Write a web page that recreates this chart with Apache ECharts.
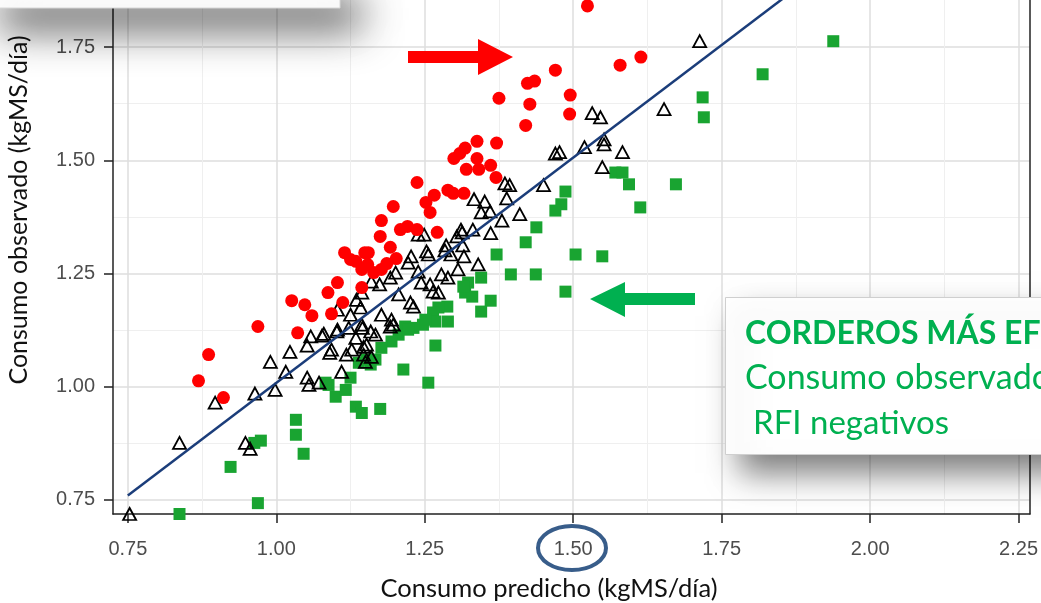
<!DOCTYPE html>
<html>
<head>
<meta charset="utf-8">
<script src="https://cdn.jsdelivr.net/npm/echarts@6/dist/echarts.min.js"></script>
<style>
  html, body { margin: 0; padding: 0; background: #fff; }
  #chart { width: 1041px; height: 603px; }
</style>
</head>
<body>
<div id="chart"></div>
<script>
'use strict';

// Tick values (major get labels, minor only a grid line)
const xTicks = [0.75, 1.0, 1.25, 1.5, 1.75, 2.0, 2.25];
const xMinor = [0.875, 1.125, 1.375, 1.625, 1.875, 2.125];
const yTicks = [0.75, 1.0, 1.25, 1.5, 1.75];
const yMinor = [0.875, 1.125, 1.375, 1.625];

// RFI positive (red circles)
const redPoints = [
  [1.524, 1.841], [1.579, 1.710], [1.614, 1.728], [1.470, 1.699], [1.423, 1.670], [1.435, 1.675],
  [1.375, 1.637], [1.427, 1.624], [1.495, 1.644], [1.494, 1.602], [1.420, 1.577], [1.338, 1.542],
  [1.371, 1.538], [1.318, 1.527], [1.309, 1.515], [1.299, 1.504], [1.338, 1.504], [1.320, 1.480],
  [1.341, 1.480], [1.361, 1.489], [1.370, 1.462], [1.237, 1.451], [1.289, 1.434], [1.298, 1.427],
  [1.316, 1.427], [1.266, 1.423], [1.252, 1.407], [1.259, 1.385], [1.197, 1.398], [1.177, 1.367],
  [1.175, 1.332], [1.209, 1.347], [1.221, 1.354], [1.237, 1.347], [1.271, 1.341], [1.155, 1.296],
  [1.202, 1.283], [1.186, 1.272], [1.115, 1.296], [1.125, 1.281], [1.149, 1.296], [1.154, 1.270],
  [1.144, 1.259], [1.164, 1.252], [1.177, 1.259], [1.103, 1.230], [1.087, 1.208], [1.112, 1.186],
  [1.093, 1.161], [1.144, 1.219], [1.026, 1.190], [1.048, 1.181], [1.060, 1.157], [0.969, 1.133],
  [1.036, 1.119], [0.886, 1.071], [0.869, 1.013], [0.911, 0.976], [1.134, 1.277], [1.192, 1.308]
];

// RFI around zero (open triangles)
const midPoints = [
  [1.713, 1.763], [1.653, 1.613], [1.532, 1.604], [1.546, 1.595], [1.552, 1.546], [1.552, 1.535],
  [1.583, 1.518], [1.519, 1.529], [1.477, 1.518], [1.549, 1.485], [1.450, 1.445], [1.385, 1.449],
  [1.393, 1.445], [1.388, 1.416], [1.410, 1.381], [1.380, 1.367], [1.361, 1.339], [1.333, 1.414],
  [1.351, 1.409], [1.345, 1.385], [1.360, 1.387], [1.311, 1.347], [1.331, 1.347], [1.304, 1.332],
  [1.314, 1.312], [1.286, 1.312], [1.284, 1.301], [1.253, 1.299], [1.239, 1.336], [1.249, 1.336],
  [1.227, 1.288], [1.294, 1.292], [1.316, 1.288], [1.256, 1.292], [0.897, 0.965], [0.964, 0.985],
  [0.998, 0.993], [1.016, 1.033], [0.990, 1.055], [1.023, 1.077], [1.058, 1.111], [1.052, 1.091],
  [1.080, 1.117], [1.090, 1.075], [1.103, 1.126], [1.118, 1.071], [1.122, 1.130], [1.134, 1.108],
  [1.145, 1.130], [1.142, 1.175], [1.144, 1.208], [1.103, 1.170], [1.052, 1.020], [1.055, 1.004],
  [1.072, 1.009], [1.110, 1.033], [1.147, 1.088], [1.147, 1.071], [0.837, 0.876], [0.948, 0.876],
  [0.956, 0.863], [1.077, 1.113], [1.102, 1.122], [1.093, 1.082], [1.144, 1.137], [1.160, 1.232],
  [1.174, 1.226], [1.192, 1.241], [1.201, 1.252], [1.222, 1.274], [1.206, 1.204], [1.226, 1.186],
  [1.244, 1.230], [1.264, 1.210], [1.177, 1.159], [1.194, 1.148], [1.167, 1.115], [1.152, 1.093],
  [1.127, 1.082], [1.160, 1.066], [1.150, 1.055], [1.231, 1.177], [1.192, 1.133], [1.159, 1.122],
  [1.259, 1.226], [1.273, 1.208], [1.278, 1.248], [1.289, 1.241], [1.306, 1.259], [1.340, 1.270],
  [1.239, 1.254], [1.197, 1.137], [0.753, 0.719], [1.470, 1.515], [1.313, 1.341], [1.125, 1.159],
  [1.135, 1.192]
];

// RFI negative (green squares)
const greenPoints = [
  [1.938, 1.763], [1.819, 1.690], [1.718, 1.639], [1.720, 1.595], [1.673, 1.447], [1.613, 1.396],
  [1.594, 1.447], [1.571, 1.473], [1.583, 1.473], [1.487, 1.431], [1.480, 1.403], [1.470, 1.389],
  [1.438, 1.352], [1.420, 1.319], [1.504, 1.292], [1.549, 1.288], [1.371, 1.292], [1.395, 1.248],
  [1.437, 1.248], [1.487, 1.210], [1.345, 1.241], [1.323, 1.230], [1.318, 1.208], [1.330, 1.199],
  [1.361, 1.190], [1.345, 1.166], [1.315, 1.221], [1.288, 1.177], [1.289, 1.144], [1.273, 1.175],
  [1.264, 1.164], [1.268, 1.144], [1.247, 1.137], [1.231, 1.130], [1.217, 1.133], [1.206, 1.115],
  [1.194, 1.100], [1.177, 1.086], [1.167, 1.060], [1.159, 1.049], [1.268, 1.091], [1.214, 1.038],
  [1.256, 1.009], [1.175, 0.951], [1.251, 1.148], [1.222, 1.126], [1.152, 1.060], [1.088, 1.004],
  [1.100, 0.978], [1.117, 0.993], [1.125, 1.020], [1.134, 0.956], [1.144, 0.942], [1.033, 0.927],
  [1.033, 0.894], [1.046, 0.852], [0.974, 0.881], [0.963, 0.876], [0.923, 0.823], [0.969, 0.743],
  [0.837, 0.719], [1.083, 1.009], [1.139, 1.053]
];

// Fitted line, observed vs predicted
const fitLine = [[0.75, 0.76], [1.86, 1.864]];

const X_MIN = 0.725, X_MAX = 2.269;
const Y_MIN = 0.719, Y_MAX = 1.854;

const TICK_FONT = "'Liberation Sans Narrow', 'Arial Narrow', 'Liberation Sans', sans-serif";
const TITLE_FONT = "Lato, 'Open Sans', sans-serif";
const GREEN_TXT = '#00b050';
const majorGrid = { color: '#dedede', width: 1.5 };
const minorGrid = { color: '#efefef', width: 1 };
const axisDark = { color: '#222', width: 1.5 };

const chart = echarts.init(document.getElementById('chart'), null, { renderer: 'canvas' });

chart.setOption({
  animation: false,
  backgroundColor: '#fff',
  grid: { left: 113, right: 6, top: 0, bottom: 89 },
  xAxis: [
    {
      type: 'value', min: X_MIN, max: X_MAX,
      axisLine: { lineStyle: axisDark },
      axisTick: { customValues: xTicks, length: 9, lineStyle: axisDark },
      axisLabel: {
        customValues: xTicks, margin: 25, color: '#4d4d4d', fontSize: 20, fontFamily: TICK_FONT,
        formatter: (v) => v.toFixed(2)
      },
      splitLine: { show: true, lineStyle: majorGrid }
    },
    {
      type: 'value', min: X_MIN, max: X_MAX, position: 'bottom',
      axisLine: { show: false },
      axisTick: { show: false, customValues: xMinor },
      axisLabel: { show: false, customValues: xMinor },
      splitLine: { show: true, lineStyle: minorGrid }
    }
  ],
  yAxis: [
    {
      type: 'value', min: Y_MIN, max: Y_MAX,
      axisLine: { show: true, lineStyle: axisDark },
      axisTick: { show: true, customValues: yTicks, length: 9, lineStyle: axisDark },
      axisLabel: {
        customValues: yTicks, margin: 18, color: '#4d4d4d', fontSize: 20, fontFamily: TICK_FONT,
        formatter: (v) => v.toFixed(2)
      },
      splitLine: { show: true, lineStyle: majorGrid }
    },
    {
      type: 'value', min: Y_MIN, max: Y_MAX, position: 'left',
      axisLine: { show: false },
      axisTick: { show: false, customValues: yMinor },
      axisLabel: { show: false, customValues: yMinor },
      splitLine: { show: true, lineStyle: minorGrid }
    },
    {
      type: 'value', min: Y_MIN, max: Y_MAX, position: 'right',
      axisLine: { show: true, lineStyle: axisDark },
      axisTick: { show: false },
      axisLabel: { show: false },
      splitLine: { show: false }
    }
  ],
  series: [
    {
      type: 'scatter', data: greenPoints, symbol: 'rect', symbolSize: 12,
      itemStyle: { color: '#19a431', opacity: 1 }, z: 3
    },
    {
      type: 'scatter', data: midPoints, symbol: 'triangle', symbolSize: [13, 12],
      itemStyle: { color: 'rgba(255,255,255,0)', borderColor: '#000', borderWidth: 1.8, opacity: 1 }, z: 4
    },
    {
      type: 'scatter', data: redPoints, symbol: 'circle', symbolSize: 13,
      itemStyle: { color: '#ff0000', opacity: 1 }, z: 5
    },
    {
      type: 'line', data: fitLine, symbol: 'none', clip: true,
      lineStyle: { color: '#1b3d7a', width: 2.5 }, z: 6
    }
  ],
  graphic: [
    // slide box above the chart, with its soft shadow
    {
      type: 'rect', z: 100,
      shape: { x: -20, y: -20, width: 360, height: 28 },
      style: {
        fill: '#fff', stroke: '#d6d6d6', lineWidth: 1,
        shadowBlur: 40, shadowOffsetX: 20, shadowOffsetY: 20, shadowColor: 'rgba(0,0,0,0.7)'
      }
    },
    // callout box
    {
      type: 'rect', z: 100,
      shape: { x: 725.5, y: 297.5, width: 340, height: 157 },
      style: {
        fill: '#fff', stroke: '#cfcfcf', lineWidth: 1,
        shadowBlur: 30, shadowOffsetX: 14, shadowOffsetY: 18, shadowColor: 'rgba(0,0,0,0.5)'
      }
    },
    {
      type: 'text', z: 101, x: 745, y: 334,
      style: {
        text: 'CORDEROS MÁS EFICIENTES', fill: GREEN_TXT,
        font: "bold 32px " + TITLE_FONT, textVerticalAlign: 'middle'
      }
    },
    {
      type: 'text', z: 101, x: 745, y: 378,
      style: {
        text: 'Consumo observado', fill: GREEN_TXT,
        font: "34px " + TITLE_FONT, textVerticalAlign: 'middle'
      }
    },
    {
      type: 'text', z: 101, x: 753, y: 423,
      style: {
        text: 'RFI negativos', fill: GREEN_TXT,
        font: "33px " + TITLE_FONT, textVerticalAlign: 'middle'
      }
    },
    // arrows
    {
      type: 'polygon', z: 90,
      shape: { points: [[408, 51], [478, 51], [478, 39], [513, 57], [478, 75], [478, 63], [408, 63]] },
      style: { fill: '#ff0000' }
    },
    {
      type: 'polygon', z: 90,
      shape: { points: [[695, 293], [625, 293], [625, 282], [590, 299], [625, 317], [625, 305], [695, 305]] },
      style: { fill: GREEN_TXT }
    },
    // ring around the 1.50 label
    {
      type: 'ellipse', z: 90,
      shape: { cx: 572, cy: 548, rx: 34, ry: 22 },
      style: { fill: 'none', stroke: '#385d8a', lineWidth: 4 }
    },
    // axis titles
    {
      type: 'text', z: 90, x: 549, y: 589,
      style: {
        text: 'Consumo predicho (kgMS/día)', fill: '#111',
        font: "25.5px " + TITLE_FONT, textAlign: 'center', textVerticalAlign: 'middle'
      }
    },
    {
      type: 'text', z: 90, x: 19, y: 210, rotation: Math.PI / 2,
      style: {
        text: 'Consumo observado (kgMS/día)', fill: '#111',
        font: "25px " + TITLE_FONT, textAlign: 'center', textVerticalAlign: 'middle'
      }
    }
  ]
});
</script>
</body>
</html>
